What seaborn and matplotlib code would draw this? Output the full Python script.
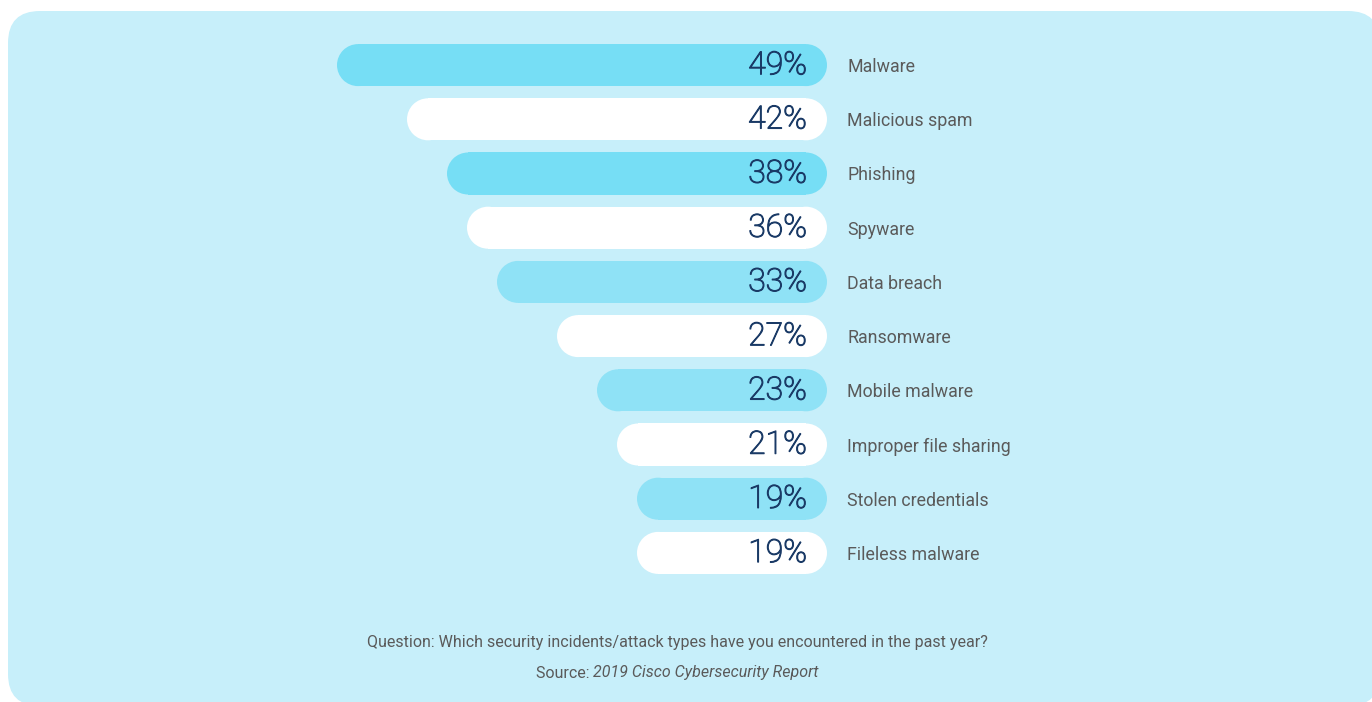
import pandas as pd
import matplotlib
matplotlib.use("Agg")
import matplotlib.pyplot as plt
import matplotlib.patheffects as pe
from matplotlib.patches import FancyBboxPatch, Ellipse
import seaborn as sns

# Data
attack_types = ["Malware", "Malicious spam", "Phishing", "Spyware", "Data breach",
                "Ransomware", "Mobile malware", "Improper file sharing",
                "Stolen credentials", "Fileless malware"]
shares = [49, 42, 38, 36, 33, 27, 23, 21, 19, 19]
bar_colors = ["#76DEF5", "#FFFFFF", "#76DEF5", "#FFFFFF", "#8FE2F6",
              "#FFFFFF", "#8FE2F6", "#FFFFFF", "#8FE2F6", "#FFFFFF"]
question = "Question: Which security incidents/attack types have you encountered in the past year?"
source_prefix = "Source: "
source_title = "2019 Cisco Cybersecurity Report"

df = pd.DataFrame({"attack": attack_types, "share": shares})

W, H = 1372, 702
sns.set_style("white")
plt.rcParams["font.family"] = ["Roboto", "DejaVu Sans"]

fig = plt.figure(figsize=(W / 100, H / 100), dpi=100)

# background panel (pixel coordinates)
bg = fig.add_axes([0, 0, 1, 1])
bg.set_xlim(0, W)
bg.set_ylim(H, 0)
bg.axis("off")
bg.add_patch(FancyBboxPatch((8, 11), 1372, 695,
                            boxstyle="round,pad=0,rounding_size=32",
                            facecolor="#C7EFFA", edgecolor="none"))

# chart axes: right edge at x=827, rows centred from y=65 to y=553
left_px, right_px = 300, 827
top_px, bot_px = 38, 580
ax = fig.add_axes([left_px / W, 1 - bot_px / H, (right_px - left_px) / W, (bot_px - top_px) / H])
ax.patch.set_alpha(0)

bar_h = 0.775
sns.barplot(data=df, y="attack", x="share", hue="attack", palette=bar_colors,
            legend=False, orient="h", width=bar_h, ax=ax, saturation=1)

px_per_unit = 10.0
ax.set_xlim((right_px - left_px) / px_per_unit, 0)
ax.set_ylim(len(attack_types) - 0.5, -0.5)

# turn the square bars into pills: shorten the rectangle, add round caps
y_units_per_px = len(attack_types) / (bot_px - top_px)
aspect = y_units_per_px * px_per_unit
r_x = (bar_h / 2) / aspect
for p in list(ax.patches):
    x0, y0, w, h = p.get_x(), p.get_y(), p.get_width(), p.get_height()
    fc = p.get_facecolor()
    p.set_x(x0 + r_x)
    p.set_width(w - 2 * r_x)
    p.set_edgecolor("none")
    p.set_linewidth(0)
    yc = y0 + h / 2
    for xc in (x0 + r_x, x0 + w - r_x):
        ax.add_patch(Ellipse((xc, yc), 2 * r_x, h, facecolor=fc,
                             edgecolor="none", zorder=p.get_zorder()))

label_color = "#1A3A66"
for i, v in enumerate(shares):
    ax.annotate(f"{v}%", xy=(0, i), xytext=(-14.4, -0.5), textcoords="offset points",
                ha="right", va="center", fontsize=23, fontweight="light",
                color=label_color, zorder=3,
                path_effects=[pe.withStroke(linewidth=0.8, foreground=label_color)])

ax.yaxis.tick_right()
ax.tick_params(axis="y", length=0, pad=14.5, labelsize=12.8, labelcolor="#5A5A5A")
ax.set_xticks([])
ax.set_xlabel("")
ax.set_ylabel("")
for s in ax.spines.values():
    s.set_visible(False)

# footer
bg.text(677, 642, question, ha="center", va="center", fontsize=11.5, color="#5A5A5A")
t1 = bg.text(0, 673, source_prefix, ha="left", va="center", fontsize=11.5, color="#5A5A5A")
t2 = bg.text(0, 673, source_title, ha="left", va="center", fontsize=11.5,
             color="#5A5A5A", style="italic")
fig.canvas.draw()
r = fig.canvas.get_renderer()
w1 = t1.get_window_extent(r).width
w2 = t2.get_window_extent(r).width
start = 677 - (w1 + w2) / 2
t1.set_x(start)
t2.set_x(start + w1)

fig.savefig("out.png", dpi=100, facecolor="white")
